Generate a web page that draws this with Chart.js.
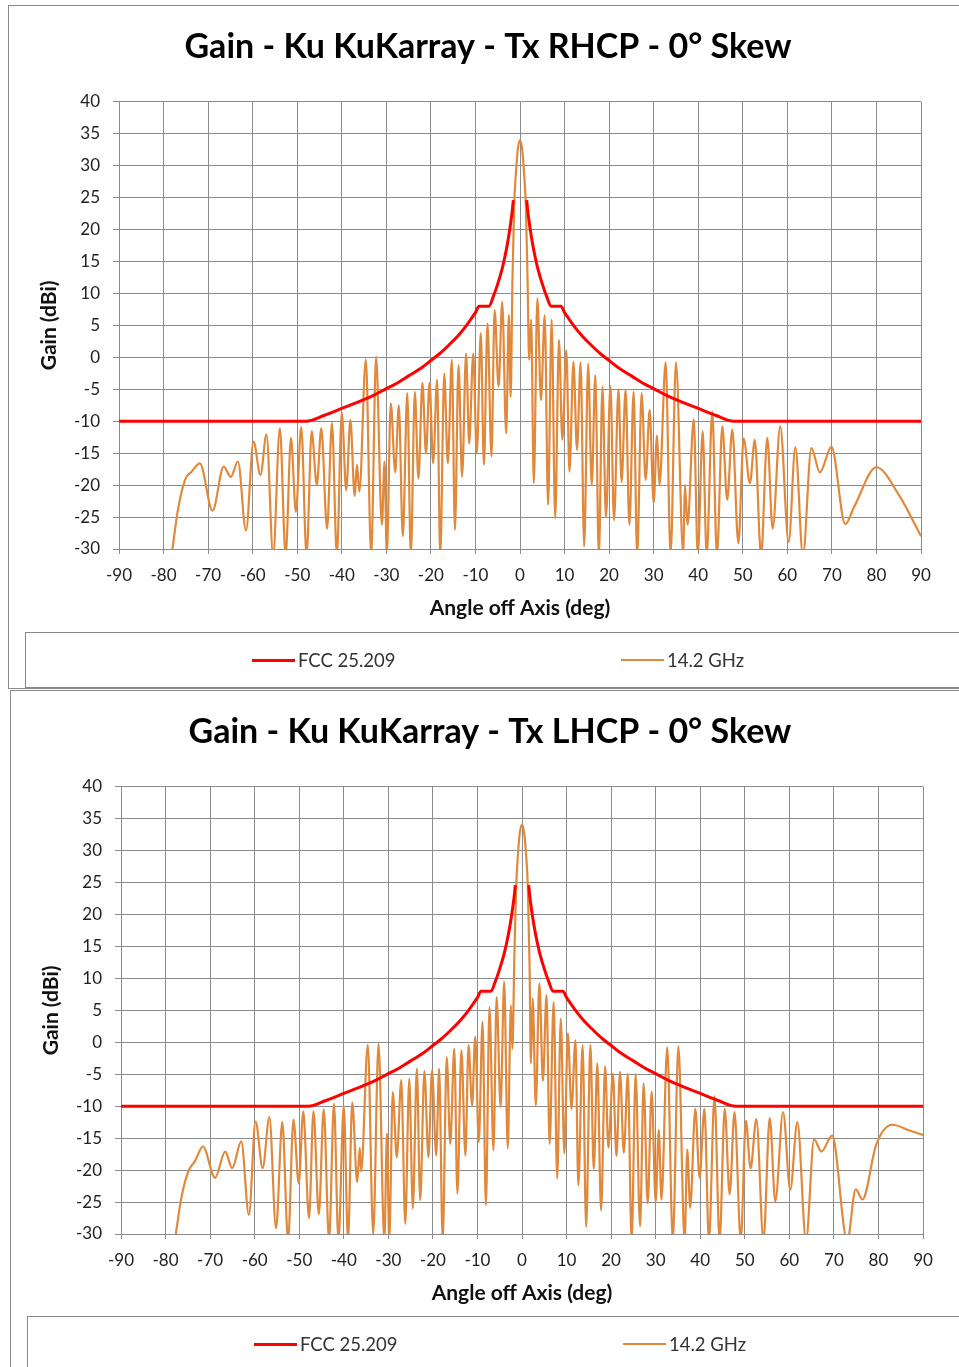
<!DOCTYPE html>
<html>
<head>
<meta charset="utf-8">
<script src="https://cdn.jsdelivr.net/npm/chart.js@4.4.1/dist/chart.umd.min.js"></script>
<style>
  body { margin: 0; background: #fff; width: 959px; height: 1367px; overflow: hidden; position: relative; font-family: Lato, "Open Sans", sans-serif; }
  .panel { position: absolute; border: 1px solid #8a8a8a; width: 990px; background: #fff; }
  .panel canvas { position: absolute; left: 0; top: 0; }
  .legend { position: absolute; left: 16px; border: 1px solid #8a8a8a; width: 990px; height: 54px; }
  .item { position: absolute; top: 0; height: 100%; display: flex; align-items: center; font-size: 18.5px; color: #333; white-space: nowrap; }
  .swatch { display: inline-block; width: 43px; margin-right: 3px; }
</style>
</head>
<body>
<div class="panel" style="left:8px; top:5px; height:682px;">
  <canvas id="chartRhcp" width="958" height="627"></canvas>
  <div class="legend" style="top:626px;">
    <div class="item" style="left:226px;"><span class="swatch" style="height:3px;background:#ff0000;"></span>FCC 25.209</div>
    <div class="item" style="left:595px;"><span class="swatch" style="height:2px;background:#e0893d;"></span>14.2 GHz</div>
  </div>
</div>
<div class="panel" style="left:10px; top:690px; height:700px;">
  <canvas id="chartLhcp" width="958" height="627"></canvas>
  <div class="legend" style="top:625px;">
    <div class="item" style="left:226px;"><span class="swatch" style="height:3px;background:#ff0000;"></span>FCC 25.209</div>
    <div class="item" style="left:595px;"><span class="swatch" style="height:2px;background:#e0893d;"></span>14.2 GHz</div>
  </div>
</div>
<script>
const xMin = -90, xMax = 90, xStep = 10;
const yMin = -30, yMax = 40, yStep = 5;

// FCC 25.209 mask (gap across the main beam)
const fccAngle = [-90, -48, -44, -40, -36, -33, -30, -28, -25, -22, -20, -18, -16, -14, -12, -11, -10, -9.2, -7, -6, -5, -4, -3.5, -3, -2.5, -2, -1.75, -1.5,
  0,
  1.5, 1.75, 2, 2.5, 3, 3.5, 4, 5, 6, 7, 9.2, 10, 11, 12, 14, 16, 18, 20, 22, 25, 28, 30, 33, 36, 40, 44, 48, 90];
const fccGain = [-10, -10, -9.1, -8.0, -6.9, -6.0, -4.9, -4.2, -2.9, -1.6, -0.5, 0.6, 1.9, 3.3, 5.0, 6.0, 7.0, 8, 8, 9.5, 11.5, 13.9, 15.4, 17.1, 19.1, 21.5, 22.9, 24.6,
  null,
  24.6, 22.9, 21.5, 19.1, 17.1, 15.4, 13.9, 11.5, 9.5, 8, 8, 7.0, 6.0, 5.0, 3.3, 1.9, 0.6, -0.5, -1.6, -2.9, -4.2, -4.9, -6.0, -6.9, -8.0, -9.1, -10, -10];

// 14.2 GHz, Tx RHCP
const rhcpAngle = [-78.2, -76.8, -75.2, -73.7, -71.85, -69.0, -66.5, -64.9, -63.3, -61.5, -59.8, -58.25, -56.9, -55.4, -53.9, -52.6, -51.4, -50.3, -49.1, -47.9,
  -46.75, -45.6, -44.6, -43.3, -42.2, -41.1, -40.0, -39.0, -38.07, -37.1, -36.6, -36.05, -34.6, -33.4, -32.3, -31.0, -30.4, -29.9, -29.0, -28.0,
  -27.2, -26.3, -25.3, -24.5, -23.6, -22.8, -21.9, -21.1, -20.3, -19.5, -18.6, -17.9, -17.0, -16.2, -15.3, -14.6, -13.8, -13.0, -12.1, -11.4,
  -10.5, -9.7, -8.8, -8.1, -7.3, -6.4, -5.7, -4.8, -4.0, -3.1, -2.5, -2.1, -1.7, -1.3, -0.9, -0.5, 0, 0.5, 0.9, 1.3, 1.7, 2.05,
  2.5, 3.1, 3.9, 4.7, 5.55, 6.3, 7.1, 7.9, 8.75, 9.5, 10.4, 11.1, 12.0, 12.8, 13.6, 14.4, 15.3, 16.1, 16.9, 17.7, 18.5, 19.3,
  20.3, 21.1, 22.1, 22.8, 23.7, 24.55, 25.5, 26.3, 27.3, 28.2, 29.1, 30.0, 30.75, 31.3, 32.7, 33.8, 35.0, 36.65, 37.0, 37.6,
  39.0, 39.9, 41.0, 41.9, 43.15, 44.2, 45.4, 46.5, 47.65, 49.0, 50.2, 51.6, 52.7, 54.1, 55.5, 56.7, 58.4, 60.3, 61.8, 63.5,
  65.4, 67.3, 69.9, 73.0, 75.0, 80.0, 85.0, 90];
const rhcpGain = [-31, -24, -19.2, -17.9, -16.6, -24.0, -17.1, -18.7, -16.3, -27.1, -13.2, -18.4, -12.1, -31, -11.1, -31, -12.6, -24.2, -10.9, -31,
  -11.6, -20.0, -11.1, -26.8, -10.3, -31, -8.65, -20.8, -9.8, -21.7, -16.8, -21.0, -0.3, -31, 0.1, -26.2, -16.3, -31, -7.2, -18,
  -7.5, -28, -5.6, -31, -5.4, -19, -4, -15, -4, -16.6, -3.5, -31, -2.5, -16.6, -0.4, -27, -1.2, -18.7, 0.6, -13.5,
  0.6, -15, 3.8, -16.8, 5.3, -15.5, 7.4, -4.6, 8.7, -11.9, 6.6, -6.2, 12, 24, 29, 32.5, 34, 32.5, 29, 24, 12, -0.4,
  5.9, -19.7, 9.25, -6.7, 6.6, -23.1, 5.9, -25.2, 2.7, -12.9, 1.15, -17.9, -0.7, -14.5, -0.8, -29.6, -1, -20, -2.8, -31, -4.6, -25,
  -4.5, -25.5, -5.0, -19.5, -5.1, -26.2, -5.4, -31, -5.6, -19.2, -8.2, -22.8, -12.2, -20, -0.8, -31, -0.8, -31, -20, -26.2,
  -9.7, -31, -11.6, -31, -8.5, -31, -10.8, -22.3, -11.3, -29.1, -12.7, -19.7, -12.9, -31, -12.6, -26.8, -10.8, -28.9, -14.1, -31,
  -14.2, -18.0, -14.0, -26.1, -23.4, -17.2, -21.5, -28.0];

// 14.2 GHz, Tx LHCP
const lhcpAngle = [-77.9, -76.5, -74.9, -73.4, -71.6, -68.9, -66.6, -65.05, -63.0, -61.3, -59.8, -58.2, -56.7, -55.2, -53.8, -52.5, -51.3, -50.1, -49.1, -47.8,
  -46.8, -45.6, -44.5, -43.3, -42.2, -41.2, -40.0, -39.05, -38.1, -37.0, -36.4, -36.1, -34.6, -33.4, -32.2, -30.9, -30.3, -29.8, -29.0, -28.1,
  -27.1, -26.2, -25.3, -24.5, -23.6, -22.85, -21.9, -21.0, -20.2, -19.25, -18.6, -17.8, -16.9, -16.1, -15.2, -14.5, -13.6, -12.7, -12.0, -11.2,
  -10.5, -9.7, -8.85, -8.1, -7.3, -6.4, -5.7, -4.8, -4.0, -3.2, -2.5, -2.15, -1.7, -1.3, -0.9, -0.5, 0, 0.5, 0.9, 1.3, 1.7, 2.0,
  2.4, 3.1, 3.9, 4.7, 5.5, 6.2, 7.1, 7.9, 8.7, 9.5, 10.3, 11.1, 12.0, 12.65, 13.6, 14.4, 15.35, 16.1, 16.9, 17.75, 18.65, 19.4,
  20.4, 21.2, 22.0, 22.85, 23.75, 24.6, 25.5, 26.5, 27.3, 28.2, 29.1, 30.0, 30.7, 31.3, 32.6, 33.85, 35.1, 36.5, 37.1, 37.75,
  38.9, 39.85, 40.95, 41.95, 43.2, 44.35, 45.5, 46.6, 47.7, 49.1, 50.25, 51.3, 52.6, 54.2, 55.6, 56.85, 58.6, 60.2, 61.8, 63.75,
  65.55, 67.2, 69.6, 73.0, 74.9, 76.4, 79.5, 83.1, 87.0, 90];
const lhcpGain = [-31, -24.5, -20.2, -18.6, -16.3, -21.2, -17.1, -19.7, -15.5, -27, -12.4, -19.7, -11.7, -29.1, -12.5, -31, -12.1, -22.1, -10.8, -27.5,
  -10.8, -26.9, -10.5, -31, -9.6, -31, -10.0, -31, -9.4, -21.9, -16.5, -20.2, -0.4, -30, -0.2, -31, -14.3, -31, -7.8, -18,
  -5.9, -28.4, -5.7, -26.0, -4.1, -24.7, -4.5, -18.0, -4.4, -17.7, -4.1, -31, -2.3, -15.9, -1.0, -23.7, -1.25, -17.7, -0.45, -9.85,
  0.85, -15.6, 3.2, -25.5, 5.5, -16.9, 7.1, -10.1, 9.5, -16.6, 5.8, -1.0, 14, 24.5, 29.5, 32.7, 34.1, 32.7, 29.5, 24.5, 12, -3.3,
  6.9, -9.85, 9.2, -6, 7.4, -15.9, 6.3, -21.3, 3.7, -17.4, 1.4, -10.4, 0.3, -22.4, -0.45, -28.9, -0.45, -19.8, -3.3, -26.3, -3.75, -16.5,
  -4.95, -17.8, -4.6, -17.3, -4.95, -31, -4.95, -28.8, -6.4, -25.2, -7.7, -25, -13.7, -24.6, -0.8, -31, -0.6, -31, -16.8, -25.9,
  -10.4, -21.2, -10.4, -31, -8.45, -31, -10.4, -23.8, -10.9, -31, -12.3, -19.7, -12.0, -31, -11.8, -24.9, -10.9, -23.1, -12.5, -31,
  -15.2, -17.1, -14.6, -31, -23.0, -24.6, -16, -12.9, -13.8, -14.5];

function toPoints(xs, ys) {
  return xs.map((x, i) => ({ x: x, y: ys[i] }));
}

const gridColor = "#8c8c8c";
const fontFamily = "Lato, 'Open Sans', sans-serif";

function makeChart(canvasId, title, angles, gains) {
  const canvas = document.getElementById(canvasId);
  return new Chart(canvas, {
    type: "line",
    data: {
      datasets: [
        {
          label: "FCC 25.209",
          data: toPoints(fccAngle, fccGain),
          borderColor: "#ff0000",
          borderWidth: 3,
          cubicInterpolationMode: "monotone",
          spanGaps: false,
          clip: 0,
        },
        {
          label: "14.2 GHz",
          data: toPoints(angles, gains),
          borderColor: "#e0893d",
          borderWidth: 2.2,
          cubicInterpolationMode: "monotone",
          clip: 0,
        },
      ],
    },
    options: {
      responsive: false,
      animation: false,
      devicePixelRatio: 1,
      layout: { padding: 0 },
      elements: { point: { radius: 0 } },
      plugins: {
        legend: { display: false },
        tooltip: { enabled: false },
        title: {
          display: true,
          text: title,
          color: "#000",
          font: { family: fontFamily, size: 34, weight: "bold" },
          padding: { top: 21, bottom: 34 },
        },
      },
      scales: {
        x: {
          type: "linear",
          min: xMin,
          max: xMax,
          afterFit: (s) => { s.height = 84; },
          ticks: { stepSize: xStep, color: "#222", padding: 11, font: { family: fontFamily, size: 17 } },
          grid: { color: gridColor, tickLength: 5 },
          border: { color: gridColor },
          title: {
            display: true,
            text: "Angle off Axis (deg)",
            color: "#111",
            font: { family: fontFamily, size: 21, weight: "bold" },
            padding: { top: 4, bottom: 12 },
          },
        },
        y: {
          min: yMin,
          max: yMax,
          afterFit: (s) => { s.width = 110; },
          ticks: { stepSize: yStep, color: "#222", padding: 13, font: { family: fontFamily, size: 17 } },
          grid: { color: gridColor, tickLength: 6 },
          border: { color: gridColor },
          title: {
            display: true,
            text: "Gain (dBi)",
            color: "#111",
            font: { family: fontFamily, size: 21, weight: "bold" },
            padding: { top: 28, bottom: 0 },
          },
        },
        // empty right-hand axis: only keeps the plot clear of the right edge
        yPad: {
          position: "right",
          min: yMin,
          max: yMax,
          afterFit: (s) => { s.width = 46; },
          ticks: { display: false },
          grid: { display: false },
          border: { display: false },
        },
      },
    },
  });
}

makeChart("chartRhcp", "Gain - Ku KuKarray - Tx RHCP - 0° Skew", rhcpAngle, rhcpGain);
makeChart("chartLhcp", "Gain - Ku KuKarray - Tx LHCP - 0° Skew", lhcpAngle, lhcpGain);
</script>
</body>
</html>
